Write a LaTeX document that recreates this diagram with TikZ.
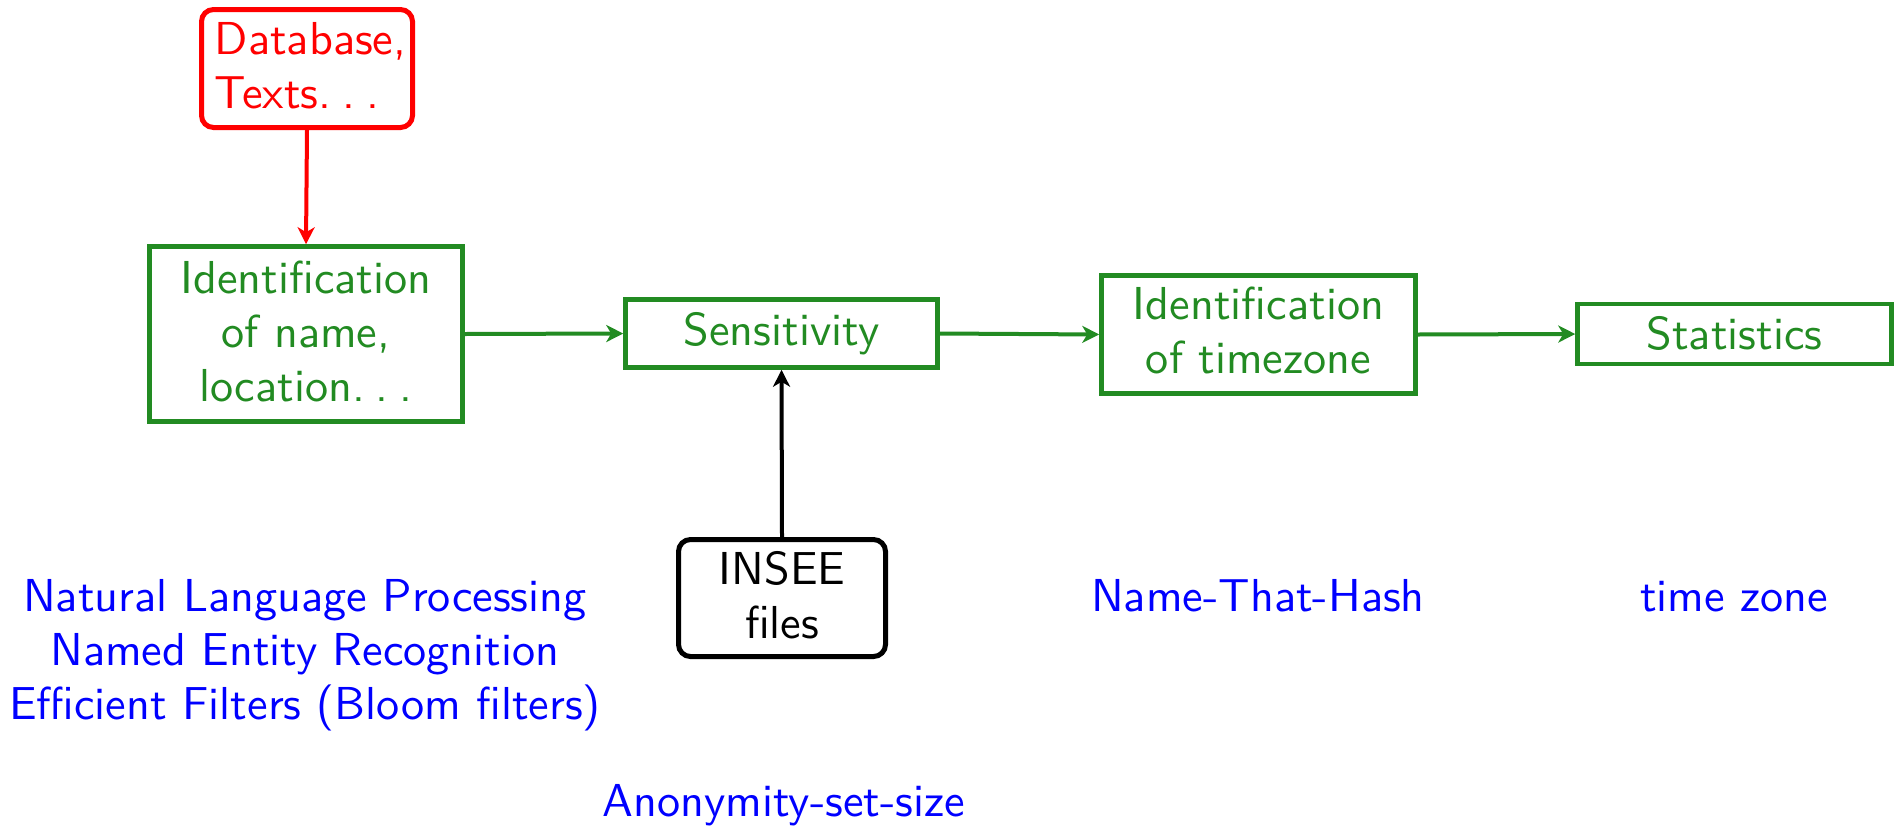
\documentclass[tikz,border=0pt]{standalone}
\usetikzlibrary{arrows.meta}
\definecolor{fgreen}{RGB}{34,139,34}
\newcommand\txc[2][0.5pt]{\scalebox{4.62}{\sffamily\fontsize{10}{11.69}\selectfont\raisebox{-#1}[\height][\depth]{\begin{tabular}{@{}c@{}}#2\end{tabular}}}}
\newcommand\txl[2][0.5pt]{\scalebox{4.62}{\sffamily\fontsize{10}{11.69}\selectfont\hspace{1.5pt}\raisebox{-#1}[\height][\depth]{\begin{tabular}{@{}l@{}}#2\end{tabular}}}}
\newcommand\mydots{.\kern0.24em.\kern0.24em.}
\begin{document}
\begin{tikzpicture}[x=1pt,y=-1pt,
  every node/.style={inner sep=0pt},
  gbox/.style={draw=fgreen, text=fgreen, line width=4.5pt},
  rbox/.style={draw=red, text=red, line width=5pt, rounded corners=12pt},
  kbox/.style={draw=black, text=black, line width=5pt, rounded corners=12pt},
  lbl/.style={text=blue},
  arr/.style={line width=4pt, -{Stealth[length=17pt,width=17pt,inset=5pt]}}
]
\useasboundingbox (0,0) rectangle (1900,830);
\node[rbox, minimum width=211pt, minimum height=118pt] (db) at (307,68.5) {\txl{Database,\\Texts\mydots}};
\node[gbox, minimum width=313pt, minimum height=175pt] (idn) at (306,334) {\txc{Identification\\of name,\\location\mydots}};
\node[gbox, minimum width=312pt, minimum height=68pt] (sens) at (781.5,333.5) {\txc[0.2pt]{Sensitivity}};
\node[gbox, minimum width=314pt, minimum height=118pt] (tz) at (1258.5,334.5) {\txc[0.25pt]{Identification\\of timezone}};
\node[gbox, minimum width=314pt, minimum height=60pt] (stat) at (1734.5,334) {\txc[1.1pt]{Statistics}};
\node[kbox, minimum width=207pt, minimum height=117pt] (insee) at (782,598) {\txc{INSEE\\files}};
\node[lbl] (nlp) at (305,651) {\txc[0.78pt]{Natural Language Processing\\Named Entity Recognition\\Efficient Filters (Bloom filters)}};
\node[lbl] (nth) at (1258,597) {\txc[0.78pt]{Name-That-Hash}};
\node[lbl] (tzl) at (1734,597) {\txc[0.78pt]{time zone}};
\node[lbl] (anon) at (784,802) {\txc[0.78pt]{Anonymity-set-size}};
\draw[arr, red] (db.south) -- (idn.north);
\draw[arr, fgreen] (idn.east) -- (sens.west);
\draw[arr, fgreen] (sens.east) -- (tz.west);
\draw[arr, fgreen] (tz.east) -- (stat.west);
\draw[arr, black] (insee.north) -- (sens.south);
\end{tikzpicture}
\end{document}
